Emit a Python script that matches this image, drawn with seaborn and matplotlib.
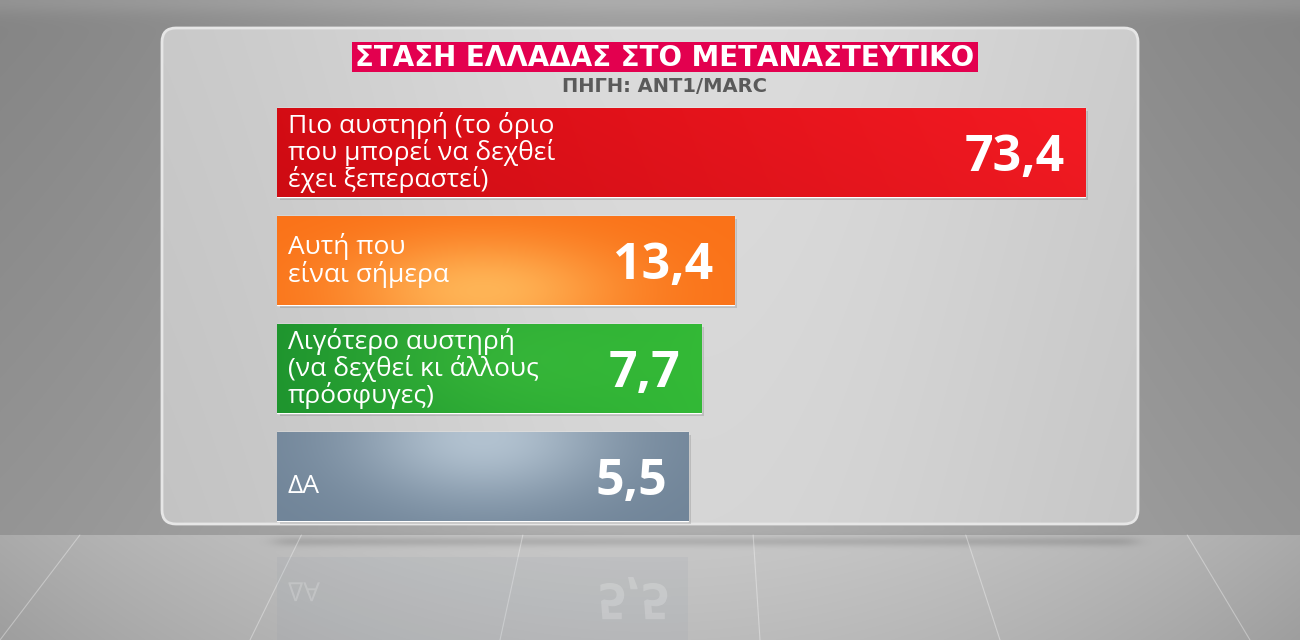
import numpy as np
import seaborn as sns
import matplotlib.pyplot as plt
import matplotlib.transforms as mtransforms
from matplotlib.patches import FancyBboxPatch, Rectangle, PathPatch
from matplotlib.textpath import TextPath
from matplotlib.font_manager import FontProperties

# ----------------------------
# Data
# ----------------------------
categories = [
    "Πιο αυστηρή (το όριο\nπου μπορεί να δεχθεί\nέχει ξεπεραστεί)",
    "Αυτή που\nείναι σήμερα",
    "Λιγότερο αυστηρή\n(να δεχθεί κι άλλους\nπρόσφυγες)",
    "ΔΑ",
]
values = [73.4, 13.4, 7.7, 5.5]
value_labels = ["73,4", "13,4", "7,7", "5,5"]
title = "ΣΤΑΣΗ ΕΛΛΑΔΑΣ ΣΤΟ ΜΕΤΑΝΑΣΤΕΥΤΙΚΟ"
source = "ΠΗΓΗ: ANT1/MARC"

# the TV graphic gives every bar a fixed stub before the value part
BASE = 64.8
PX_PER_UNIT = 5.85
base_colors = ["#e01018", "#ff8a2a", "#2fae38", "#8a9cae"]

sns.set_theme(style="white")
plt.rcParams["font.family"] = ["Open Sans", "DejaVu Sans"]

W, H = 1300, 640
fig = plt.figure(figsize=(13, 6.4), dpi=100)

# ----------------------------
# Studio background
# ----------------------------
bg = fig.add_axes([0, 0, 1, 1])
yy, xx = np.mgrid[0:H, 0:W].astype(float)
horizon = 535
wall = 126 + 32 * np.exp(-((xx - 650) / 520) ** 2) + 16 * (yy / horizon)
wall += 14 * np.exp(-(yy / 14) ** 2)
floor = 200 - 12 * ((yy - horizon) / 105) - 30 * ((xx - 650) / 650) ** 2
bgv = np.where(yy < horizon, wall, floor)
side = 1 / (1 + np.exp(-(xx - 275) / 6)) / (1 + np.exp((xx - 1135) / 6))
bgv -= 24 * np.exp(-((yy - 541) / 5) ** 2) * side
img = np.clip(np.dstack([bgv] * 3) / 255, 0, 1)
bg.imshow(img, extent=(0, W, H, 0), aspect="auto", zorder=0)

# perspective floor lines
vp = (700, -280)
for xb in [-250, 0, 250, 500, 760, 1000, 1250, 1500]:
    t = (horizon - H) / (vp[1] - H)
    bg.plot([xb, xb + (vp[0] - xb) * t], [H, horizon], color="white",
            lw=0.8, alpha=0.35, zorder=0.5)

# panel
px0, py0, pw, ph = 162, 28, 976, 496
panel = FancyBboxPatch((px0, py0), pw, ph, boxstyle="round,pad=0,rounding_size=14",
                       fc="none", ec=(0.9, 0.9, 0.9), lw=2, zorder=2)
bg.add_patch(panel)
pv, pu = np.mgrid[0:1:100j, 0:1:200j]
pval = 190 + 24 * np.exp(-((pu - 0.55) / 0.45) ** 2) + 6 * (1 - pv)
parr = np.clip(np.dstack([pval] * 3) / 255, 0, 1)
pim = bg.imshow(parr, extent=(px0, px0 + pw, py0 + ph, py0), aspect="auto",
                zorder=1, interpolation="bicubic")
pim.set_clip_path(panel)

# title box and source
bg.add_patch(Rectangle((352, 42), 626, 30, fc="#e3004f", ec="none", zorder=3))
bg.text(665, 57.5, title, ha="center", va="center", color="white",
        fontsize=20, weight="bold", family=["DejaVu Sans"], zorder=4)
bg.text(665, 86, source, ha="center", va="center", color="#5a5a5a",
        fontsize=14, weight="bold", family=["DejaVu Sans"], zorder=4)
bg.set_xlim(0, W)
bg.set_ylim(H, 0)
bg.axis("off")

# ----------------------------
# Bars
# ----------------------------
ax_left, ax_right, ax_top, ax_bot = 277, 1138, 98.5, 530.5
ax = fig.add_axes([ax_left / W, 1 - ax_bot / H, (ax_right - ax_left) / W, (ax_bot - ax_top) / H])
ax.patch.set_alpha(0)
plot_vals = [v + BASE for v in values]
sns.barplot(x=plot_vals, y=categories, hue=categories, palette=base_colors,
            orient="h", width=0.82, saturation=1, legend=False, ax=ax, zorder=3)


def grad(i, u, v):
    if i == 0:
        a = np.array([212, 12, 20]); b = np.array([244, 26, 34])
        c = a + (b - a) * u[..., None]
        c = c * (1 - 0.03 * v[..., None])
    elif i == 1:
        e = np.array([250, 114, 24]); h = np.array([255, 180, 86])
        w = np.exp(-((u - 0.45) / 0.3) ** 2 - ((v - 0.85) / 0.6) ** 2)[..., None]
        c = e + (h - e) * w
    elif i == 2:
        a = np.array([30, 148, 46]); b = np.array([50, 184, 54])
        c = a + (b - a) * u[..., None]
        w = np.exp(-((u - 0.5) / 0.35) ** 2 - ((v - 0.4) / 0.7) ** 2)[..., None]
        c = c + np.array([12, 12, 6]) * w
    else:
        e = np.array([112, 132, 152]); h = np.array([178, 194, 208])
        w = np.exp(-((u - 0.5) / 0.32) ** 2 - ((v - 0.05) / 0.75) ** 2)[..., None]
        c = e + (h - e) * w
    return np.clip(c / 255, 0, 1)


gv, gu = np.mgrid[0:1:60j, 0:1:200j]
for i, patch in enumerate(ax.patches):
    x0, y0 = patch.get_x(), patch.get_y()
    w, h = patch.get_width(), patch.get_height()
    ax.add_patch(Rectangle((x0 + 0.5, y0 + 0.03), w, h, fc="black", alpha=0.12,
                           ec="none", zorder=2.5))
    im = ax.imshow(grad(i, gu, gv), extent=(x0, x0 + w, y0 + h, y0), aspect="auto",
                   zorder=3.1, interpolation="bicubic")
    im.set_clip_path(patch)

LABEL_PAD = 11 / PX_PER_UNIT
VALUE_PAD = 21 / PX_PER_UNIT
LABEL_SIZE = 19
label_y = []
for i, (cat, v, lbl) in enumerate(zip(categories, plot_vals, value_labels)):
    # single-line labels sit a little below the bar middle in the graphic
    ly = i + (0.09 if "\n" not in cat else 0)
    label_y.append(ly)
    ax.text(LABEL_PAD, ly, cat, ha="left", va="center", color="white",
            fontsize=LABEL_SIZE, linespacing=1.0, zorder=5)
    ax.text(v - VALUE_PAD, i + 0.167, lbl, ha="right", va="baseline", color="white",
            fontsize=36, weight="bold", zorder=5)

ax.set_xlim(0, (ax_right - ax_left) / PX_PER_UNIT)
ax.set_ylim(3.5, -0.5)
ax.axis("off")

# ----------------------------
# Floor reflection of the last bar
# ----------------------------
fig.canvas.draw()
to_bg = ax.transData + bg.transData.inverted()
mirror = 539
n = len(values) - 1
last = ax.patches[n]
(rx0, ry0), (rx1, ry1) = to_bg.transform([(last.get_x(), last.get_y()),
                                          (last.get_x() + last.get_width(), last.get_y() + last.get_height())])
bg.add_patch(Rectangle((rx0, 2 * mirror - ry1), rx1 - rx0, ry1 - ry0,
                       fc=(0.55, 0.6, 0.66), alpha=0.12, ec="none", zorder=0.6))
fp_reg = FontProperties(family=["Open Sans", "DejaVu Sans"], size=LABEL_SIZE)
fp_bold = FontProperties(family=["Open Sans", "DejaVu Sans"], weight="bold", size=36)
for s, fp, xd, yd, right in [(categories[n], fp_reg, LABEL_PAD, label_y[n], False),
                             (value_labels[n], fp_bold, plot_vals[n] - VALUE_PAD, n + 0.167, True)]:
    px = fp.get_size_in_points() * 100 / 72
    tp = TextPath((0, 0), s, size=px, prop=fp)
    ext = tp.get_extents()
    bx, by = to_bg.transform((xd, yd))
    if right:
        bx -= ext.x1
        base_y = by
    else:
        base_y = by + ext.height / 2
    tr = mtransforms.Affine2D().translate(bx, 2 * mirror - base_y) + bg.transData
    bg.add_patch(PathPatch(tp, transform=tr, fc="white", ec="none", alpha=0.2, zorder=0.7))

fig.savefig("out.png", dpi=100)
plt.close(fig)
